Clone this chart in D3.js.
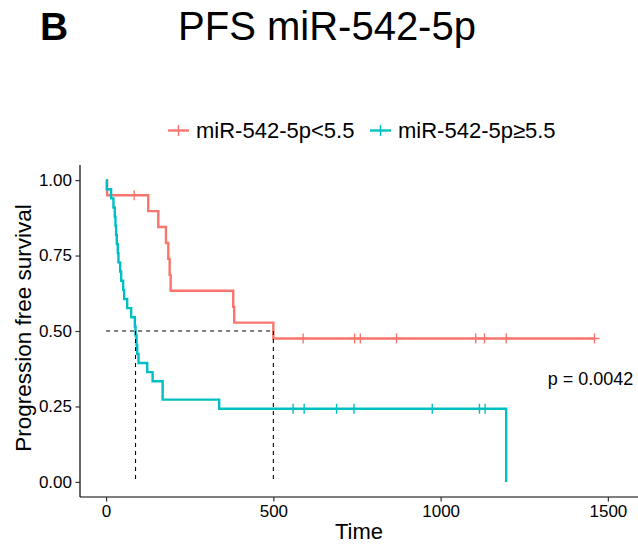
<!DOCTYPE html>
<html>
<head>
<meta charset="utf-8">
<script src="https://cdn.jsdelivr.net/npm/d3@7"></script>
<style>
  body { margin: 0; background: #fff; }
  svg { display: block; font-family: "Liberation Sans", Arial, sans-serif; }
</style>
</head>
<body>
<div id="chart"></div>
<script>
// group labels and colours
const groups = ["miR-542-5p<5.5", "miR-542-5p\u22655.5"];
const colors = ["#F8766D", "#00BFC4"];

// event (progression) and censoring times
const lowEvents = [3, 126, 156, 179, 186, 190, 193, 380, 383, 500];
const lowCensored = [84, 589, 589, 743, 760, 868, 1105, 1131, 1196, 1460];
const highEvents = [2, 15, 22, 26, 28, 30, 32, 35, 37, 42, 45, 51, 54, 63, 75, 86, 88, 91, 93, 97,
                    123, 139, 169, 169, 338, 1196];
const highCensored = [559, 592, 689, 741, 975, 1116, 1133];

const xTicks = [0, 500, 1000, 1500];
const yTicks = [0, 0.25, 0.5, 0.75, 1];
const pText = "p = 0.0042";

const width = 638, height = 545;

// Kaplan-Meier estimate from event / censor lists
function km(events, censored) {
    const times = Array.from(new Set(events.concat(censored))).sort((a, b) => a - b);
    let atRisk = events.length + censored.length;
    let s = 1;
    const steps = [{ t: 0, s: 1 }];
    const marks = [];
    times.forEach(t => {
        const d = events.filter(e => e === t).length;
        const c = censored.filter(e => e === t).length;
        if (d > 0) {
            s = s * (1 - d / atRisk);
            steps.push({ t: t, s: s });
        }
        if (c > 0) marks.push({ t: t, s: s });
        atRisk -= d + c;
    });
    const last = times[times.length - 1];
    if (steps[steps.length - 1].t !== last) steps.push({ t: last, s: s });
    const med = steps.find(p => p.s <= 0.5);
    return { steps: steps, marks: marks, median: med ? med.t : null };
}

const fits = [km(lowEvents, lowCensored), km(highEvents, highCensored)];

const svg = d3.select("#chart").append("svg")
    .attr("width", width)
    .attr("height", height);

const x = d3.scaleLinear().domain([-78, 1590]).range([80, 638]);
const y = d3.scaleLinear().domain([-0.05, 1.05]).range([497, 165]);

// panel label and title
svg.append("text")
    .attr("x", 40).attr("y", 40)
    .attr("font-size", 39).attr("font-weight", "bold")
    .text("B");
svg.append("text")
    .attr("x", 327).attr("y", 40)
    .attr("text-anchor", "middle")
    .attr("font-size", 40)
    .text("PFS miR-542-5p");

// legend
const legendX = [168, 370];
groups.forEach((g, i) => {
    const lg = svg.append("g").attr("transform", `translate(${legendX[i]},130.5)`);
    lg.append("line").attr("x1", 0).attr("x2", 21)
        .attr("stroke", colors[i]).attr("stroke-width", 2.4);
    lg.append("line").attr("x1", 10.5).attr("x2", 10.5).attr("y1", -5.5).attr("y2", 5.5)
        .attr("stroke", colors[i]).attr("stroke-width", 1.5);
    lg.append("text").attr("x", 28).attr("y", 7.5)
        .attr("font-size", 22)
        .text(g);
});

// axes
const xAxis = svg.append("g")
    .attr("transform", "translate(0,497)")
    .call(d3.axisBottom(x).tickValues(xTicks).tickSize(4.5).tickPadding(3.5).tickFormat(d3.format("d")));
const yAxis = svg.append("g")
    .attr("transform", "translate(80,0)")
    .call(d3.axisLeft(y).tickValues(yTicks).tickSize(4.5).tickPadding(3.5).tickFormat(d3.format(".2f")));
[xAxis, yAxis].forEach(a => {
    a.select(".domain").attr("stroke", "#000").attr("stroke-width", 1.2);
    a.selectAll(".tick line").attr("stroke", "#333").attr("stroke-width", 1.2);
    a.selectAll(".tick text").attr("font-size", 17).attr("fill", "#000")
        .attr("font-family", "Liberation Sans, Arial, sans-serif");
});
xAxis.select(".domain").attr("d", "M80,0H638");
yAxis.select(".domain").attr("d", "M0,165V497");

svg.append("text")
    .attr("x", 359).attr("y", 539)
    .attr("text-anchor", "middle")
    .attr("font-size", 22)
    .text("Time");
svg.append("text")
    .attr("transform", "translate(31,328) rotate(-90)")
    .attr("text-anchor", "middle")
    .attr("font-size", 22.5)
    .text("Progression free survival");

// survival curves
const line = d3.line()
    .x(d => x(d.t))
    .y(d => y(d.s))
    .curve(d3.curveStepAfter);

fits.forEach((f, i) => {
    svg.append("path")
        .datum(f.steps)
        .attr("fill", "none")
        .attr("stroke", colors[i])
        .attr("stroke-width", 2.4)
        .attr("d", line);
    svg.append("g").selectAll("path")
        .data(f.marks)
        .enter().append("path")
        .attr("d", d => `M${x(d.t) - 5},${y(d.s)}H${x(d.t) + 5}M${x(d.t)},${y(d.s) - 5}V${y(d.s) + 5}`)
        .attr("stroke", colors[i])
        .attr("stroke-width", 1.4)
        .attr("fill", "none");
});

// median lines
const medians = fits.map(f => f.median);
const dash = svg.append("g")
    .attr("stroke", "#000")
    .attr("stroke-width", 1.1)
    .attr("stroke-dasharray", "4,4")
    .attr("fill", "none");
dash.append("line")
    .attr("x1", x(0)).attr("x2", x(d3.max(medians)))
    .attr("y1", y(0.5)).attr("y2", y(0.5));
medians.forEach(m => {
    dash.append("line")
        .attr("x1", x(m)).attr("x2", x(m))
        .attr("y1", y(0.5)).attr("y2", y(0));
});

// p-value
svg.append("text")
    .attr("x", x(1320)).attr("y", y(0.32))
    .attr("font-size", 18)
    .text(pText);
</script>
</body>
</html>
